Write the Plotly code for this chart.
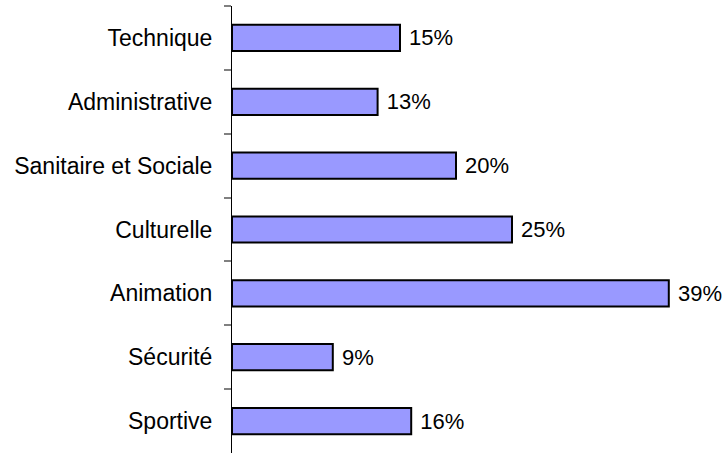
import plotly.graph_objects as go

categories = ["Technique", "Administrative", "Sanitaire et Sociale", "Culturelle",
              "Animation", "Sécurité", "Sportive"]
values = [15, 13, 20, 25, 39, 9, 16]
labels = ["15%", "13%", "20%", "25%", "39%", "9%", "16%"]

fig = go.Figure(go.Bar(
    x=values, y=categories, orientation="h",
    marker=dict(color="#9999FF", line=dict(color="black", width=2)),
    text=labels, texttemplate="\u00a0%{text}", textposition="outside",
    cliponaxis=False, constraintext="none",
    textfont=dict(family="Liberation Sans, Arial", size=22, color="black"),
    hoverinfo="skip",
))

fig.update_layout(
    width=723, height=453,
    margin=dict(l=232, r=43, t=6, b=0, autoexpand=False),
    paper_bgcolor="white", plot_bgcolor="white",
    bargap=0.59, showlegend=False,
    font=dict(family="Liberation Sans, Arial", size=22, color="black"),
)
fig.update_xaxes(visible=False, range=[0, 40], automargin=False)
fig.update_yaxes(
    autorange="reversed", showline=True, linecolor="black", linewidth=1,
    ticks="outside", tickson="boundaries", ticklen=7, tickcolor="#808080", tickwidth=2,
    showgrid=False, zeroline=False, ticklabelstandoff=14, automargin=False,
    tickfont=dict(family="Liberation Sans, Arial", size=23, color="black"),
)

fig.write_html("out.html",
               config={"displayModeBar": False, "staticPlot": True},
               post_script="document.body.style.margin='0';document.body.style.overflow='hidden';")
